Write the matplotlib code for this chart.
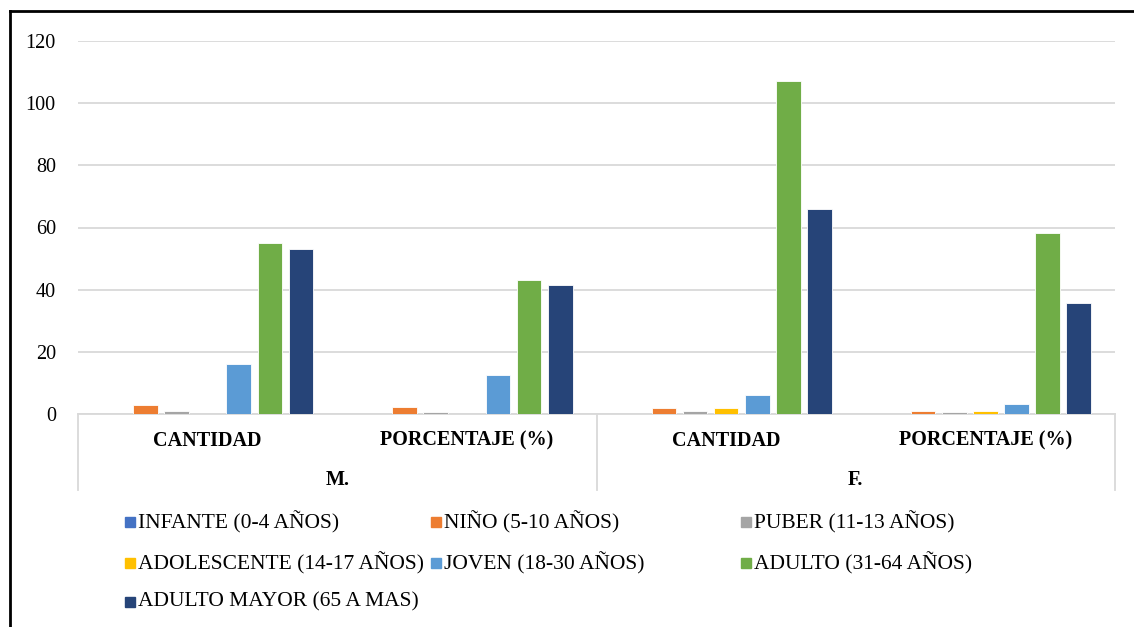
import numpy as np
import matplotlib.pyplot as plt
from matplotlib.lines import Line2D

plt.rcParams['font.family'] = ['Liberation Serif', 'DejaVu Serif']

# Grupos de edad (series) y categorías del eje
series = ["INFANTE (0-4 AÑOS)", "NIÑO (5-10 AÑOS)", "PUBER (11-13 AÑOS)",
          "ADOLESCENTE (14-17 AÑOS)", "JOVEN (18-30 AÑOS)", "ADULTO (31-64 AÑOS)",
          "ADULTO MAYOR (65 A MAS)"]
colors = ["#4472C4", "#ED7D31", "#A5A5A5", "#FFC000", "#5B9BD5", "#70AD47", "#264478"]
sub_cats = ["CANTIDAD", "PORCENTAJE (%)", "CANTIDAD", "PORCENTAJE (%)"]
sexes = ["M.", "F."]

# valores por grupo de edad: [M cantidad, M %, F cantidad, F %]
infante = [0, 0, 0, 0]
nino = [3, 2.34, 2, 1.09]
puber = [1, 0.78, 1, 0.54]
adolescente = [0, 0, 2, 1.09]
joven = [16, 12.5, 6, 3.26]
adulto = [55, 42.97, 107, 58.15]
adulto_mayor = [53, 41.41, 66, 35.87]
values = [infante, nino, puber, adolescente, joven, adulto, adulto_mayor]

W, H = 1134, 627
fig = plt.figure(figsize=(W / 100, H / 100), dpi=100)

# marco exterior (solo borde izquierdo y superior visibles)
fig.add_artist(Line2D([10 / W, 10 / W], [0, 1 - 11 / H], color="black", lw=2,
                      transform=fig.transFigure))
fig.add_artist(Line2D([10 / W, 1], [1 - 11 / H, 1 - 11 / H], color="black", lw=2,
                      transform=fig.transFigure))

x0, x1 = 78, 1115
ybase, ytop = 414, 41
ax = fig.add_axes([x0 / W, 1 - ybase / H, (x1 - x0) / W, (ybase - ytop) / H])

n = len(series)
x = np.arange(len(sub_cats))
pitch = 0.12
bw = 0.095
for i, (vals, col, name) in enumerate(zip(values, colors, series)):
    ax.bar(x + (i - (n - 1) / 2) * pitch, vals, width=bw, color=col,
           edgecolor="white", linewidth=0.6, label=name, zorder=3)

ax.set_xlim(-0.5, len(sub_cats) - 0.5)
ax.set_ylim(0, 120)
ax.set_yticks(range(0, 121, 20))
ax.yaxis.grid(True, color="#D9D9D9", lw=1.3)
ax.set_axisbelow(True)
for s in ["top", "right", "left"]:
    ax.spines[s].set_visible(False)
ax.spines["bottom"].set_color("#D9D9D9")
ax.spines["bottom"].set_linewidth(1.3)
ax.tick_params(axis="y", length=0, labelsize=14.5, pad=16)
ax.tick_params(axis="x", length=0, labelbottom=False)

# eje de categorías de dos niveles
for i, lab in enumerate(sub_cats):
    ax.text(i, -0.072, lab, transform=ax.get_xaxis_transform(), ha="center",
            va="center", fontsize=14.5, fontweight="bold")
for j, lab in enumerate(sexes):
    ax.text(2 * j + 0.5, -0.176, lab, transform=ax.get_xaxis_transform(),
            ha="center", va="center", fontsize=14.5, fontweight="bold")
for xs in [-0.5, 1.5, 3.5]:
    ax.plot([xs, xs], [0, -0.205], transform=ax.get_xaxis_transform(),
            color="#D9D9D9", lw=1.3, clip_on=False)

# leyenda en tres columnas
cols_x = [130, 436, 746]
rows_y = [522, 563, 602]
for i, (name, col) in enumerate(zip(series, colors)):
    r, c = divmod(i, 3)
    px, py = cols_x[c], rows_y[r]
    fig.patches.append(plt.Rectangle(((px - 5) / W, 1 - (py + 5) / H), 10 / W, 10 / H,
                                     color=col, transform=fig.transFigure))
    fig.text((px + 8) / W, 1 - py / H, name, ha="left", va="center", fontsize=15.5)

fig.savefig("out.png", dpi=100)
